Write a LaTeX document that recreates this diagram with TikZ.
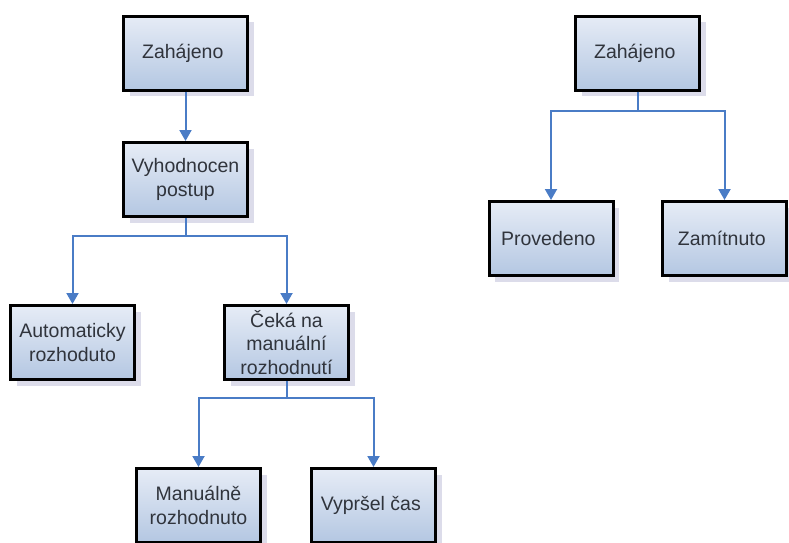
\documentclass[tikz,border=0pt]{standalone}
\usepackage{fontspec}
\setmainfont{Liberation Sans}
\usetikzlibrary{arrows.meta,positioning,shadows}

\definecolor{boxTop}{HTML}{E6ECF6}
\definecolor{boxBottom}{HTML}{B4C7E2}
\definecolor{linkBlue}{HTML}{4A7CC6}
\definecolor{textGray}{HTML}{30343C}

\tikzstyle{stateBox} = [rectangle, minimum width=124pt, minimum height=74pt,
                        line width=3pt,
                        draw=black,
                        top color=boxTop,
                        bottom color=boxBottom,
                        align=center,
                        text=textGray,
                        font=\fontsize{19.5}{23.5}\selectfont,
                        drop shadow={shadow xshift=6pt, shadow yshift=-6pt,
                                     fill=blue!25!gray, opacity=0.22}]
\tikzstyle{flowArrow} = [line width=2pt, draw=linkBlue,
                         -{Triangle[length=11pt, width=12pt, fill=linkBlue]}]

\begin{document}
\begin{tikzpicture}[x=1pt, y=-1pt, node distance=163pt]

  \useasboundingbox (0,0) rectangle (789,542);

  % left tree
  \node (start) [stateBox] at (185.5,53) {
    Zahájeno
  };

  \node (eval) [stateBox, below of=start, yshift=36.5pt] {
    Vyhodnocen\\
    postup
  };

  \node (auto) [stateBox, below of=eval, xshift=-113pt] {
    Automaticky\\
    rozhoduto
  };

  \node (wait) [stateBox, below of=eval, xshift=101pt] {
    Čeká na\\
    manuální\\
    rozhodnutí
  };

  \node (manual) [stateBox, below of=wait, xshift=-88pt] {
    Manuálně\\
    rozhodnuto
  };

  \node (timeout) [stateBox, below of=wait, xshift=87pt] {
    Vypršel čas
  };

  \draw[flowArrow] (start) to (eval);
  \draw[flowArrow] (eval.south) -- ++(0,18) -| (auto.north);
  \draw[flowArrow] (eval.south) -- ++(0,18) -| (wait.north);
  \draw[flowArrow] (wait.south) -- ++(0,17) -| (manual.north);
  \draw[flowArrow] (wait.south) -- ++(0,17) -| (timeout.north);

  % right tree
  \node (start2) [stateBox, right of=start, xshift=289pt] {
    Zahájeno
  };

  \node (done) [stateBox, below of=start2, xshift=-86.5pt, yshift=-22.5pt] {
    Provedeno
  };

  \node (rejected) [stateBox, below of=start2, xshift=87pt, yshift=-22.5pt] {
    Zamítnuto
  };

  \draw[flowArrow] (start2.south) -- ++(0,19) -| (done.north);
  \draw[flowArrow] (start2.south) -- ++(0,19) -| (rejected.north);

\end{tikzpicture}
\end{document}
